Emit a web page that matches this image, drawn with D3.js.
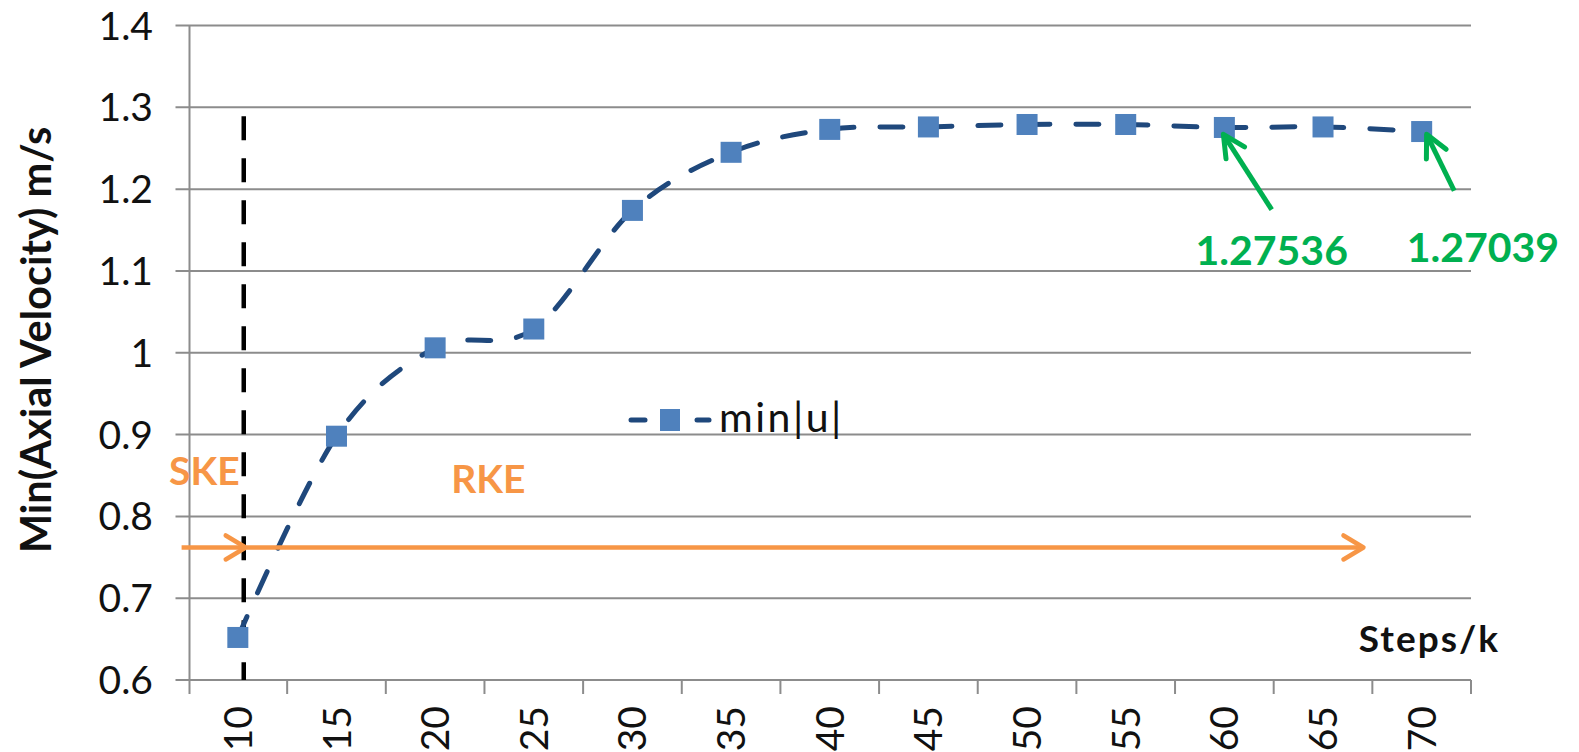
<!DOCTYPE html>
<html>
<head>
<meta charset="utf-8">
<script src="https://cdn.jsdelivr.net/npm/d3@7"></script>
<style>
body { margin: 0; background: #fff; }
svg { display: block; font-family: Lato, "Open Sans", sans-serif; }
</style>
</head>
<body>
<svg id="chart"></svg>
<script>
// data
var steps = ["10", "15", "20", "25", "30", "35", "40", "45", "50", "55", "60", "65", "70"];
var minU = [0.652, 0.898, 1.006, 1.029, 1.174, 1.245, 1.273, 1.276, 1.279, 1.279, 1.27536, 1.276, 1.27039];
var yTicks = [0.6, 0.7, 0.8, 0.9, 1, 1.1, 1.2, 1.3, 1.4];
var seriesName = "min|u|";

// annotations, in data units (steps, m/s)
var switchStep = 10.3;
var arrowLevel = 0.762;
var skeArrow = [7.15, 10.4];
var rkeArrow = [10.45, 67.05];
var valueNotes = [
	{ text: "1.27536", at: 62.4, base: 1.107, from: [62.4, 1.175], to: [59.95, 1.267] },
	{ text: "1.27039", at: 73.1, base: 1.111, from: [71.65, 1.198], to: [70.25, 1.267] }
];

var width = 1579, height = 752;
var plotLeft = 188.5, plotRight = 1471, plotTop = 25.5, plotBottom = 680;

var svg = d3.select("#chart").attr("width", width).attr("height", height);

var x = d3.scaleBand().domain(steps).range([plotLeft, plotRight]).padding(0);
var bw = x.bandwidth();
var cx = function(s){ return x(s) + bw / 2; };
var y = d3.scaleLinear().domain([0.6, 1.4]).range([plotBottom, plotTop]);
// continuous step scale for the drawn annotations
var sx = d3.scaleLinear().domain([10, 70]).range([cx("10"), cx("70")]);

var grey = "#8c8c8c";

// gridlines (with the small outside tick on the left)
svg.append("g").selectAll("line").data(yTicks).enter().append("line")
	.attr("x1", plotLeft - 13).attr("x2", plotRight)
	.attr("y1", function(d){ return y(d); }).attr("y2", function(d){ return y(d); })
	.attr("stroke", grey).attr("stroke-width", 2);

// y axis line
svg.append("line").attr("x1", plotLeft + 1).attr("x2", plotLeft + 1)
	.attr("y1", plotTop).attr("y2", plotBottom + 14)
	.attr("stroke", grey).attr("stroke-width", 2);

// x ticks at band edges
var edges = steps.map(function(s){ return x(s); }).concat([plotRight]);
svg.append("g").selectAll("line").data(edges.slice(1)).enter().append("line")
	.attr("x1", function(d){ return d; }).attr("x2", function(d){ return d; })
	.attr("y1", plotBottom).attr("y2", plotBottom + 14)
	.attr("stroke", grey).attr("stroke-width", 2);

// y tick labels
svg.append("g").selectAll("text").data(yTicks).enter().append("text")
	.attr("x", 153).attr("y", function(d){ return y(d); })
	.attr("dy", "0.36em").attr("text-anchor", "end")
	.attr("font-size", 39).attr("fill", "#111")
	.text(function(d){ return d; });

// x tick labels, rotated
svg.append("g").selectAll("text").data(steps).enter().append("text")
	.attr("transform", function(d){ return "translate(" + cx(d) + ",706) rotate(-90)"; })
	.attr("dy", "0.36em").attr("text-anchor", "end")
	.attr("font-size", 39).attr("fill", "#111")
	.text(function(d){ return d; });

// axis titles
svg.append("text")
	.attr("transform", "translate(51,340) rotate(-90)")
	.attr("text-anchor", "middle").attr("font-weight", "bold")
	.attr("font-size", 41.5).attr("fill", "#111")
	.text("Min(Axial Velocity) m/s");

svg.append("text")
	.attr("x", plotRight + 29).attr("y", 652)
	.attr("text-anchor", "end").attr("font-weight", "bold")
	.attr("font-size", 37).attr("letter-spacing", 2).attr("fill", "#111")
	.text("Steps/k");

// SKE / RKE switch line
svg.append("line")
	.attr("x1", sx(switchStep)).attr("x2", sx(switchStep))
	.attr("y1", y(1.289)).attr("y2", plotBottom)
	.attr("stroke", "#000").attr("stroke-width", 4.5)
	.attr("stroke-dasharray", "24,18");

// series line
var data = steps.map(function(s, i){ return { s: s, v: minU[i] }; });
var line = d3.line()
	.x(function(d){ return cx(d.s); })
	.y(function(d){ return y(d.v); })
	.curve(d3.curveCatmullRom.alpha(0));

svg.append("path").datum(data)
	.attr("d", line).attr("fill", "none")
	.attr("stroke", "#1f487c").attr("stroke-width", 5)
	.attr("stroke-linecap", "round")
	.attr("stroke-dasharray", "23,26");

svg.append("g").selectAll("rect").data(data).enter().append("rect")
	.attr("x", function(d){ return cx(d.s) - 10.5; })
	.attr("y", function(d){ return y(d.v) - 10.5; })
	.attr("width", 21).attr("height", 21)
	.attr("fill", "#4f81bd");

// legend
var lg = svg.append("g").attr("transform", "translate(629,420)");
lg.append("line").attr("x1", 2).attr("x2", 16).attr("y1", 0).attr("y2", 0)
	.attr("stroke", "#1f487c").attr("stroke-width", 5).attr("stroke-linecap", "round");
lg.append("rect").attr("x", 31).attr("y", -11).attr("width", 20).attr("height", 22).attr("fill", "#4f81bd");
lg.append("line").attr("x1", 68).attr("x2", 80).attr("y1", 0).attr("y2", 0)
	.attr("stroke", "#1f487c").attr("stroke-width", 5).attr("stroke-linecap", "round");
lg.append("text").attr("x", 90).attr("y", 12)
	.attr("font-size", 41).attr("letter-spacing", 2.5).attr("fill", "#111").text(seriesName);

// orange arrows
var orange = "#f79646";
function arrow(g, x1, y1, x2, y2, color, sw, len, half) {
	var a = Math.atan2(y2 - y1, x2 - x1);
	g.append("line").attr("x1", x1).attr("y1", y1).attr("x2", x2).attr("y2", y2)
		.attr("stroke", color).attr("stroke-width", sw);
	var p1 = [x2 - len * Math.cos(a) + half * Math.sin(a), y2 - len * Math.sin(a) - half * Math.cos(a)];
	var p2 = [x2 - len * Math.cos(a) - half * Math.sin(a), y2 - len * Math.sin(a) + half * Math.cos(a)];
	g.append("path").attr("d", "M" + p1 + "L" + [x2, y2] + "L" + p2)
		.attr("fill", "none").attr("stroke", color).attr("stroke-width", sw)
		.attr("stroke-linecap", "round").attr("stroke-linejoin", "round");
}
var ann = svg.append("g");
arrow(ann, sx(skeArrow[0]), y(arrowLevel), sx(skeArrow[1]), y(arrowLevel), orange, 4.5, 20, 12);
arrow(ann, sx(rkeArrow[0]), y(arrowLevel), sx(rkeArrow[1]), y(arrowLevel), orange, 4.5, 20, 12);

ann.append("text").attr("x", sx(8.3)).attr("y", y(0.838))
	.attr("text-anchor", "middle").attr("font-weight", "bold")
	.attr("font-size", 39).attr("fill", orange).text("SKE");
ann.append("text").attr("x", sx(22.7)).attr("y", y(0.8286))
	.attr("text-anchor", "middle").attr("font-weight", "bold")
	.attr("font-size", 39).attr("fill", orange).text("RKE");

// green value notes
var green = "#00b050";
valueNotes.forEach(function(n){
	arrow(ann, sx(n.from[0]), y(n.from[1]), sx(n.to[0]), y(n.to[1]), green, 5, 22, 11);
	ann.append("text").attr("x", sx(n.at)).attr("y", y(n.base))
		.attr("text-anchor", "middle").attr("font-weight", "bold")
		.attr("font-size", 41).attr("fill", green).text(n.text);
});
</script>
</body>
</html>
